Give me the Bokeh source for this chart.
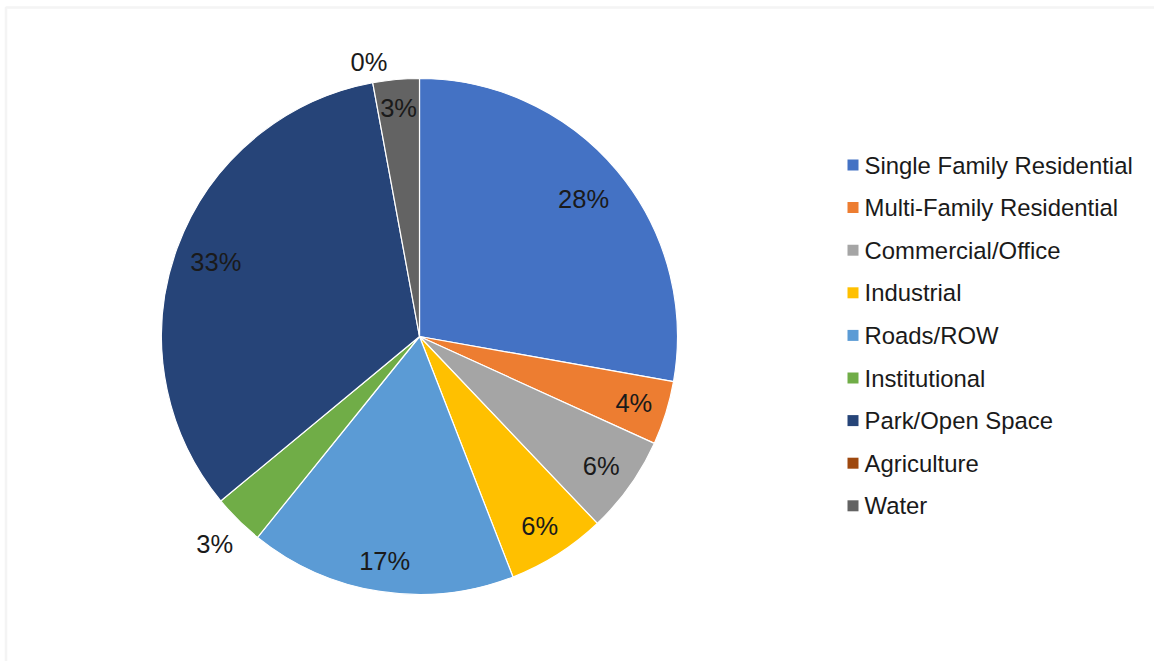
import math
from bokeh.plotting import figure
from bokeh.models import ColumnDataSource, BoxAnnotation, Range1d
from bokeh.core.properties import value
from bokeh.embed import file_html
from bokeh.resources import INLINE

categories = ["Single Family Residential", "Multi-Family Residential", "Commercial/Office",
              "Industrial", "Roads/ROW", "Institutional", "Park/Open Space", "Agriculture", "Water"]
shares = [27.8, 4.0, 6.1, 6.2, 16.7, 3.2, 33.1, 0.0, 2.9]
colors = ["#4472C4", "#ED7D31", "#A5A5A5", "#FFC000", "#5B9BD5", "#70AD47", "#264478", "#9E480E", "#636363"]
label_r = [0.83, 0.87, 0.865, 0.87, 0.88, 1.13, 0.84, 1.08, 0.89]

W, H = 1154, 661
cx, cy, R = 419, H - 336, 258

total = sum(shares)
starts, ends, lx, ly, labels = [], [], [], [], []
cum = 0.0
for s, f in zip(shares, label_r):
    a0 = cum / total
    cum += s
    a1 = cum / total
    # clockwise from 12 o'clock -> bokeh counterclockwise angles
    starts.append(math.pi / 2 - a1 * 2 * math.pi)
    ends.append(math.pi / 2 - a0 * 2 * math.pi)
    mid = (a0 + a1) / 2 * 2 * math.pi
    lx.append(cx + f * R * math.sin(mid))
    ly.append(cy + f * R * math.cos(mid))
    labels.append(f"{round(s / total * 100)}%")

keep = [i for i, s in enumerate(shares) if s > 0]
wedge_src = ColumnDataSource(dict(cat=[categories[i] for i in keep],
                                  start=[starts[i] for i in keep],
                                  end=[ends[i] for i in keep],
                                  color=[colors[i] for i in keep]))
lab_src = ColumnDataSource(dict(lx=lx, ly=ly, label=labels))

p = figure(width=W, height=H, output_backend="svg", toolbar_location=None,
           x_range=Range1d(0, W), y_range=Range1d(0, H), min_border=0)
p.axis.visible = False
p.grid.visible = False
p.outline_line_color = None
p.background_fill_color = "white"

p.add_layout(BoxAnnotation(left=5.5, right=W + 20, bottom=-20, top=H - 7,
                           fill_alpha=0, line_color="#D9D9D9", line_width=2.5))

p.wedge(x=cx, y=cy, radius=R, start_angle="start", end_angle="end", source=wedge_src,
        fill_color="color", line_color="white", line_width=1.2)

p.text(x="lx", y="ly", text="label", source=lab_src, text_font=value("Liberation Sans"),
       text_font_size="25.5px", text_color="#1a1a1a", text_align="center", text_baseline="middle")

# legend
leg_x, leg_y0, leg_dy = 852.5, H - 164.5, 42.6
leg_src = ColumnDataSource(dict(
    mx=[leg_x] * len(categories),
    my=[leg_y0 - i * leg_dy for i in range(len(categories))],
    tx=[leg_x + 11.5] * len(categories),
    cat=categories, color=colors))
p.scatter(x="mx", y="my", marker="square", size=11, source=leg_src,
          fill_color="color", line_color=None)
p.text(x="tx", y="my", text="cat", source=leg_src, text_font=value("Liberation Sans"),
       text_font_size="23.9px", text_color="#1a1a1a", text_align="left", text_baseline="middle")

open("out.html", "w").write(file_html(p, INLINE))
